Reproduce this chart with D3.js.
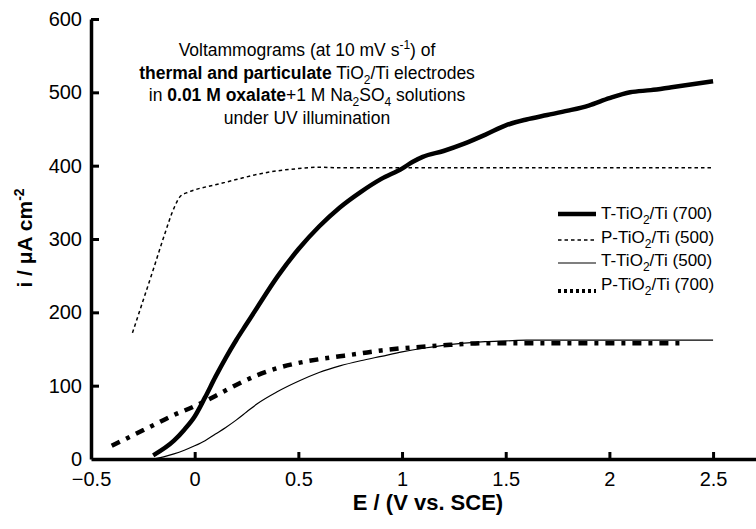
<!DOCTYPE html>
<html>
<head>
<meta charset="utf-8">
<script src="https://cdn.jsdelivr.net/npm/d3@7"></script>
<style>
  body { margin: 0; background: #fff; }
  svg { display: block; font-family: "Liberation Sans", Arial, sans-serif; }
</style>
</head>
<body>
<svg id="chart" width="756" height="529"></svg>
<script>
// potentials (V vs. SCE) and currents (uA cm-2)
var eT700 = [-0.2, -0.1, -0.05, 0, 0.05, 0.1, 0.15, 0.2, 0.25, 0.3, 0.4, 0.5, 0.6, 0.7, 0.8, 0.9, 1.0, 1.05, 1.1, 1.2, 1.3, 1.4, 1.5, 1.6, 1.7, 1.8, 1.9, 2.0, 2.1, 2.2, 2.3, 2.4, 2.5];
var iT700 = [5, 25, 40, 58, 84, 112, 138, 162, 184, 206, 249, 286, 317, 343, 364, 382, 396, 405, 412, 420, 430, 442, 455, 463, 469, 475, 482, 492, 500, 503, 507, 511, 515];

var eP500 = [-0.3, -0.25, -0.2, -0.15, -0.1, -0.07, -0.03, 0, 0.1, 0.2, 0.3, 0.4, 0.5, 0.6, 0.7, 1.0, 1.5, 2.0, 2.5];
var iP500 = [172, 215, 258, 302, 342, 358, 364, 367, 374, 381, 388, 393, 396, 398, 397, 397, 397, 397, 397];

var eT500 = [-0.2, -0.15, -0.1, -0.05, 0, 0.05, 0.1, 0.15, 0.2, 0.25, 0.3, 0.4, 0.5, 0.6, 0.7, 0.8, 0.9, 1.0, 1.1, 1.2, 1.3, 1.4, 1.5, 1.6, 1.7, 2.0, 2.5];
var iT500 = [0, 3, 7, 12, 18, 25, 34, 43, 53, 64, 75, 92, 106, 118, 127, 134, 140, 146, 151, 155, 158, 160, 161, 162, 162, 162, 162];

var eP700 = [-0.4, -0.3, -0.2, -0.1, 0, 0.1, 0.2, 0.3, 0.4, 0.5, 0.6, 0.7, 0.8, 0.9, 1.0, 1.1, 1.2, 1.3, 1.4, 1.5, 2.0, 2.35];
var iP700 = [18, 32, 46, 60, 72, 86, 101, 114, 124, 131, 136, 140, 144, 148, 151, 153, 155, 157, 158, 158, 158, 158];

var xTicks = [-0.5, 0, 0.5, 1, 1.5, 2, 2.5];
var yTicks = [0, 100, 200, 300, 400, 500, 600];

var series = [
    {name: "T-TiO", tail: "/Ti (700)", e: eT700, i: iT700, width: 4.5, dash: null, legWidth: 4.5, legDash: null},
    {name: "P-TiO", tail: "/Ti (500)", e: eP500, i: iP500, width: 1.5, dash: "3.5,3", legWidth: 1.5, legDash: "3.5,3"},
    {name: "T-TiO", tail: "/Ti (500)", e: eT500, i: iT500, width: 1.2, dash: null, legWidth: 1.2, legDash: null},
    {name: "P-TiO", tail: "/Ti (700)", e: eP700, i: iP700, width: 4.5, dash: "9,7,4,7", legWidth: 4, legDash: "3,3"}
];

var svg = d3.select("#chart");

var x = d3.scaleLinear().domain([-0.5, 2.707]).range([91, 756]);
var y = d3.scaleLinear().domain([0, 600]).range([459, 19]);

// axes, ticks point inward
var xAxis = svg.append("g")
    .attr("transform", "translate(0," + y(0) + ")")
    .call(d3.axisBottom(x).tickValues(xTicks).tickSizeInner(-7).tickSizeOuter(0).tickPadding(13)
        .tickFormat(function (d) { return d3.format("")(d); }));

var yAxis = svg.append("g")
    .attr("transform", "translate(" + x(-0.5) + ",0)")
    .call(d3.axisLeft(y).tickValues(yTicks).tickSizeInner(-8).tickSizeOuter(0).tickPadding(9));

[xAxis, yAxis].forEach(function (g) {
    g.select(".domain").attr("stroke", "#000").attr("stroke-width", 3.5);
    g.selectAll(".tick line").attr("stroke", "#000").attr("stroke-width", 3);
    g.selectAll(".tick text").attr("fill", "#000").style("font-size", "20px");
});
xAxis.selectAll(".tick").filter(function (d) { return d === -0.5; }).select("line").remove();
yAxis.selectAll(".tick").filter(function (d) { return d === 0; }).select("line").remove();

// curves
var line = d3.line()
    .x(function (d) { return x(d[0]); })
    .y(function (d) { return y(d[1]); })
    .curve(d3.curveMonotoneX);

series.forEach(function (s) {
    var pts = s.e.map(function (e, k) { return [e, s.i[k]]; });
    svg.append("path")
        .datum(pts)
        .attr("fill", "none")
        .attr("stroke", "#000")
        .attr("stroke-width", s.width)
        .attr("stroke-dasharray", s.dash)
        .attr("d", line);
});

// axis titles
svg.append("text")
    .attr("x", 428).attr("y", 510)
    .attr("text-anchor", "middle")
    .style("font-size", "22px").style("font-weight", "bold")
    .text("E / (V vs. SCE)");

var yt = svg.append("text")
    .attr("transform", "translate(32,238) rotate(-90)")
    .attr("text-anchor", "middle")
    .style("font-size", "21px").style("font-weight", "bold");
yt.append("tspan").text("i / \u03bcA cm");
yt.append("tspan").attr("dy", -8).style("font-size", "14px").text("-2");

// annotation block
var note = [
    [["Voltammograms (at 10 mV s", 0, 0], ["-1", 0, 1], [") of", 0, 0]],
    [["thermal and particulate", 1, 0], [" TiO", 0, 0], ["2", 0, -1], ["/Ti electrodes", 0, 0]],
    [["in ", 0, 0], ["0.01 M oxalate", 1, 0], ["+1 M Na", 0, 0], ["2", 0, -1], ["SO", 0, 0], ["4", 0, -1], [" solutions", 0, 0]],
    [["under UV illumination", 0, 0]]
];
note.forEach(function (segs, r) {
    var t = svg.append("text")
        .attr("x", 307).attr("y", 56 + r * 22.7)
        .attr("text-anchor", "middle")
        .style("font-size", "17.5px");
    var shift = 0;
    segs.forEach(function (sg) {
        var target = sg[2] === 1 ? -7 : (sg[2] === -1 ? 5 : 0);
        t.append("tspan")
            .attr("dy", target - shift)
            .style("font-weight", sg[1] ? "bold" : "normal")
            .style("font-size", sg[2] ? "12px" : null)
            .text(sg[0]);
        shift = target;
    });
});

// legend
var legend = svg.append("g");
series.forEach(function (s, k) {
    var cy = 213 + k * 23.5;
    var ly = [214, 240, 263, 291][k];
    legend.append("line")
        .attr("x1", 558).attr("x2", 596)
        .attr("y1", ly).attr("y2", ly)
        .attr("stroke", "#000")
        .attr("stroke-width", s.legWidth)
        .attr("stroke-dasharray", s.legDash);
    var t = legend.append("text")
        .attr("x", 601).attr("y", cy + 6)
        .style("font-size", "17px");
    t.append("tspan").text(s.name);
    t.append("tspan").attr("dy", 5).style("font-size", "12px").text("2");
    t.append("tspan").attr("dy", -5).text(s.tail);
});
</script>
</body>
</html>
